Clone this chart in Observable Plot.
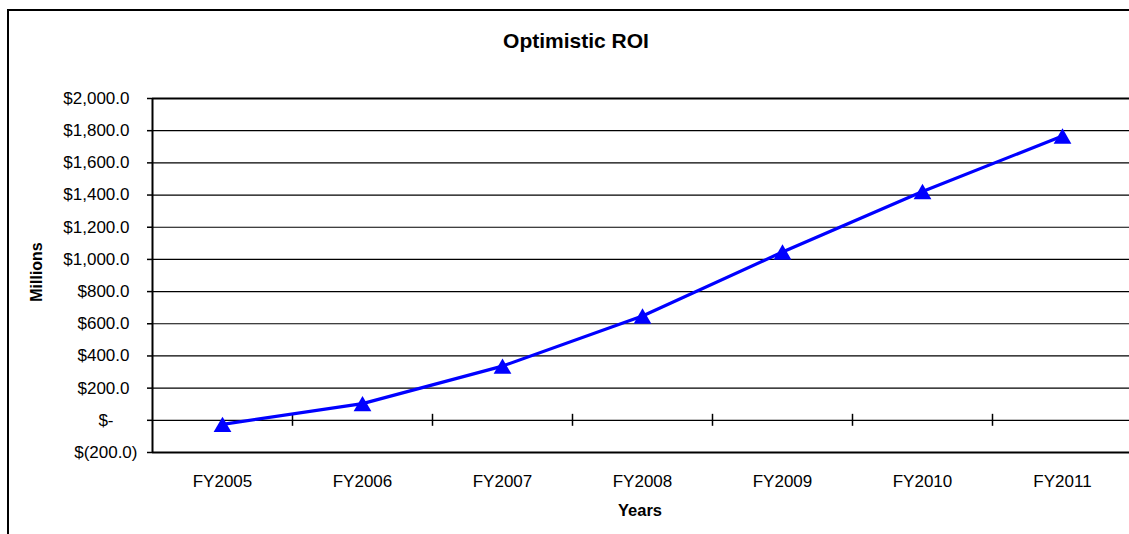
<!DOCTYPE html>
<html>
<head>
<meta charset="utf-8">
<script src="https://cdn.jsdelivr.net/npm/d3@7"></script>
<script src="https://cdn.jsdelivr.net/npm/@observablehq/plot@0.6"></script>
<style>
  html, body { margin: 0; padding: 0; background: #fff; overflow: hidden; }
  #wrap { position: relative; width: 1129px; height: 534px; overflow: hidden; background: #fff; font-family: "Liberation Sans", Arial, sans-serif; }
  #outer { position: absolute; left: 7px; top: 9px; width: 2000px; height: 2000px; border: 2px solid #000; box-sizing: border-box; }
  #chart { position: absolute; left: 0; top: 0; }
  .t { position: absolute; white-space: nowrap; line-height: 1; color: #000; font-weight: bold; }
  #title { left: 576px; top: 30px; font-size: 21px; transform: translateX(-50%); }
  #xlab { left: 640px; top: 502px; font-size: 16.5px; transform: translateX(-50%); }
  #ylab { left: 37px; top: 272px; font-size: 16px; transform: translate(-50%, -50%) rotate(-90deg); }
</style>
</head>
<body>
<div id="wrap">
  <div id="outer"></div>
  <div id="chart"></div>
  <div class="t" id="title"></div>
  <div class="t" id="xlab"></div>
  <div class="t" id="ylab"></div>
</div>
<script>
// ---- data ----
const chartTitle = "Optimistic ROI";
const xTitle = "Years";
const yTitle = "Millions";
const years = ["FY2005", "FY2006", "FY2007", "FY2008", "FY2009", "FY2010", "FY2011"];
const roi = [-25, 104, 337, 648, 1046, 1422, 1767];
const yTicks = [-200, 0, 200, 400, 600, 800, 1000, 1200, 1400, 1600, 1800, 2000];

// ---- build ----
document.getElementById("title").textContent = chartTitle;
document.getElementById("xlab").textContent = xTitle;
document.getElementById("ylab").textContent = yTitle;

const data = years.map((y, i) => ({year: y, value: roi[i]}));
const num = d3.format(",.1f");
const fmt = v => v === 0 ? "$-" : v < 0 ? "$(" + num(-v) + ")" : "$" + num(v);

const W = 1129, H = 534;
const plotLeft = 152, plotRight = 1132, plotTop = 98, plotBottom = 452;
const halfStep = (plotRight - plotLeft) / years.length / 2;
const markerR = 6.6;
const triH = Math.sqrt(markerR * markerR * Math.PI * 4 / Math.sqrt(3)) * Math.sqrt(3) / 2;

const posTicks = yTicks.filter(v => v > 0);
const negTicks = yTicks.filter(v => v < 0);
const zeroTicks = yTicks.filter(v => v === 0);

const chart = Plot.plot({
  width: W,
  height: H,
  marginLeft: plotLeft,
  marginRight: 0,
  marginTop: plotTop,
  marginBottom: H - plotBottom,
  style: {fontFamily: "'Liberation Sans', Arial, sans-serif", fontSize: "17px", color: "#000", background: "transparent", overflow: "visible"},
  x: {type: "point", domain: years, range: [plotLeft, plotRight], padding: 0.5},
  y: {domain: [yTicks[0], yTicks[yTicks.length - 1]]},
  marks: [
    Plot.ruleY(yTicks, {stroke: "#000", strokeWidth: d => (d === yTicks[0] || d === yTicks[yTicks.length - 1]) ? 2 : 1.2}),
    Plot.ruleX([years[0]], {dx: -halfStep, stroke: "#000", strokeWidth: 2}),
    Plot.ruleX(years.slice(0, -1), {dx: halfStep, y1: () => 0, y2: () => 0, insetTop: -6, insetBottom: -6, stroke: "#000", strokeWidth: 1.5}),
    Plot.axisY({ticks: posTicks, tickSize: 5, tickPadding: 18, tickFormat: fmt, label: null, strokeWidth: 1.5}),
    Plot.axisY({ticks: negTicks, tickSize: 5, tickPadding: 10, tickFormat: fmt, label: null, strokeWidth: 1.5}),
    Plot.axisY({ticks: zeroTicks, tickSize: 5, tickPadding: 34, tickFormat: fmt, label: null, strokeWidth: 1.5}),
    Plot.axisX({tickSize: 0, tickPadding: 22, label: null}),
    Plot.line(data, {x: "year", y: "value", stroke: "#0000FF", strokeWidth: 3.2}),
    Plot.dot(data, {x: "year", y: "value", symbol: "triangle", r: markerR, fill: "#0000FF", stroke: "none", dy: triH / 6})
  ]
});
document.getElementById("chart").appendChild(chart);
</script>
</body>
</html>
